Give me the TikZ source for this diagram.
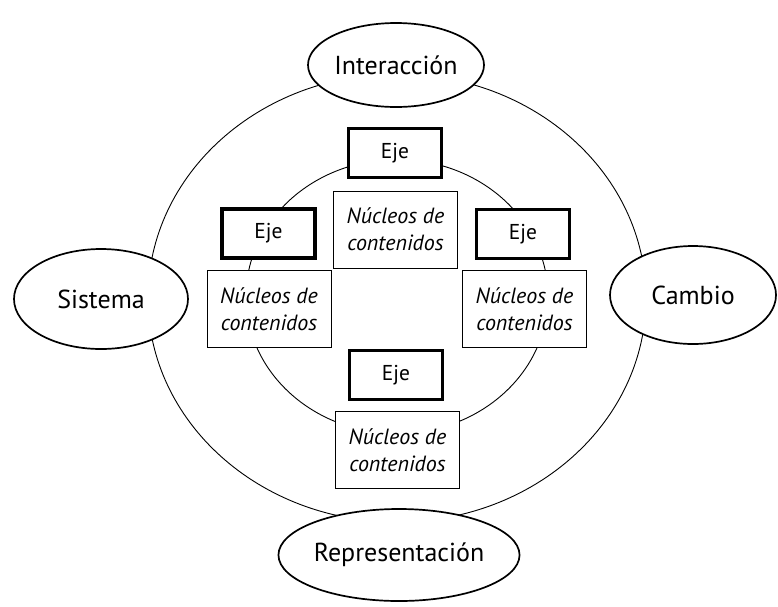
\documentclass[tikz,border=0pt]{standalone}
\usepackage{fontspec}
\setmainfont{PT Sans}
\usetikzlibrary{shapes.geometric}
\tikzset{
  oval/.style={ellipse, draw, line width=1.7pt, fill=white, inner sep=0pt,
    font=\fontsize{26}{30}\selectfont},
  ejebox/.style={rectangle, draw, line width=3.8pt, fill=white, inner sep=0pt,
    minimum width=93pt, minimum height=49pt, font=\fontsize{21.5}{25}\selectfont},
  nucbox/.style={rectangle, draw, line width=0.9pt, fill=white, inner sep=0pt,
    minimum width=124pt, minimum height=77pt, align=center,
    font=\fontsize{22}{27}\selectfont\itshape},
  ring/.style={draw, line width=0.9pt}
}
\begin{document}
\begin{tikzpicture}[x=1pt,y=-1pt]
\useasboundingbox (0,0) rectangle (778,606);
\draw[ring] (397,298) ellipse [x radius=249pt, y radius=224pt];
\draw[ring] (397,296.5) ellipse [x radius=151pt, y radius=137pt];
\node[oval, minimum width=176pt, minimum height=84pt] (inter) at (396,65) {Interacción};
\node[oval, minimum width=174pt, minimum height=100pt] (sist) at (101,299) {Sistema};
\node[oval, minimum width=166pt, minimum height=98pt] (camb) at (693,295) {Cambio};
\node[oval, minimum width=214pt, minimum height=92pt] (repr) at (399,555) {Representación};
\node[ejebox] (ejeT) at (395,153) {Eje};
\node[ejebox] (ejeL) at (268.5,233.5) {Eje};
\node[ejebox] (ejeR) at (523,234) {Eje};
\node[ejebox] (ejeB) at (396,375) {Eje};
\node[nucbox] (nucT) at (395.5,229.5) {Núcleos de\\contenidos};
\node[nucbox] (nucL) at (269,309) {Núcleos de\\contenidos};
\node[nucbox] (nucR) at (524.5,309) {Núcleos de\\contenidos};
\node[nucbox] (nucB) at (397.5,450) {Núcleos de\\contenidos};
\end{tikzpicture}
\end{document}
